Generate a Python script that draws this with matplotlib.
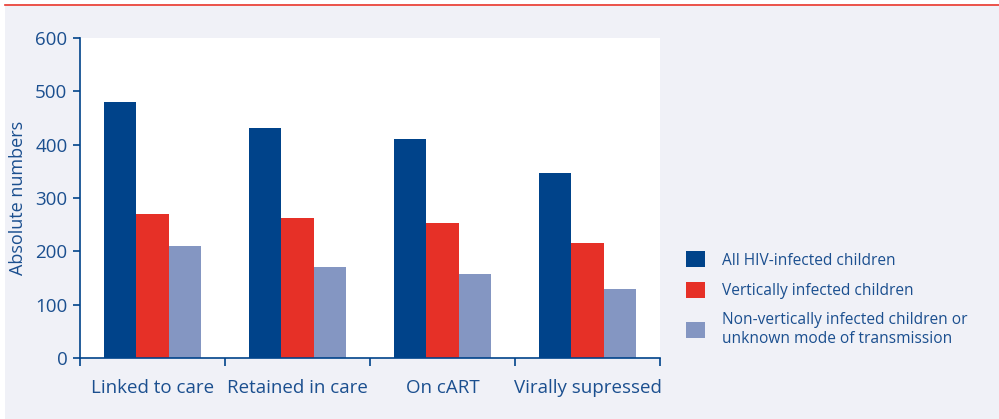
import matplotlib
matplotlib.use("Agg")
from matplotlib import pyplot as plt
from matplotlib.patches import Rectangle
from matplotlib.lines import Line2D
import numpy as np

categories = ["Linked to care", "Retained in care", "On cART", "Virally supressed"]
all_hiv = [480, 432, 411, 346]
vertical = [270, 263, 254, 216]
non_vertical = [210, 170, 158, 130]
series_names = ["All HIV-infected children",
                "Vertically infected children",
                "Non-vertically infected children or\nunknown mode of transmission"]

c_blue = "#00438A"
c_red = "#E63027"
c_lilac = "#8496C2"
c_text = "#1B4F8F"
c_bg = "#F0F1F7"

plt.rcParams['font.family'] = ['Open Sans', 'DejaVu Sans']

W, H = 999, 419
fig = plt.figure(figsize=(W / 100, H / 100), dpi=100, facecolor="white")

# panel background and red top rule
fig.patches.append(Rectangle((5 / W, 0), 1 - 5 / W, 1 - 6 / H, transform=fig.transFigure,
                             facecolor=c_bg, edgecolor="none", zorder=-10))
fig.lines.append(Line2D([5 / W, 1], [1 - 5 / H, 1 - 5 / H], transform=fig.transFigure,
                        color="#E8352B", linewidth=1.2, zorder=-5))

ax = fig.add_axes([80 / W, 1 - 358 / H, 580 / W, 320 / H])
ax.set_facecolor("white")

x = np.arange(len(categories))
w = 0.225
ax.bar(x - w, all_hiv, w, color=c_blue, label=series_names[0])
ax.bar(x, vertical, w, color=c_red, label=series_names[1])
ax.bar(x + w, non_vertical, w, color=c_lilac, label=series_names[2])

ax.set_xlim(-0.5, len(categories) - 0.5)
ax.set_ylim(0, 600)
ax.set_yticks(range(0, 601, 100))

# ticks at category boundaries, labels centered
ax.set_xticks(np.arange(-0.5, len(categories), 1))
ax.set_xticklabels([])
ax.set_xticks(x, minor=True)
ax.set_xticklabels(categories, minor=True)
ax.tick_params(axis="x", which="minor", length=0, pad=15, labelsize=13.5, labelcolor=c_text)
ax.tick_params(axis="x", which="major", length=6, width=1.2, color=c_blue, direction="out")
ax.tick_params(axis="y", length=5, width=1.2, color=c_blue, labelsize=13.5,
               labelcolor=c_text, pad=4)

for s in ["top", "right"]:
    ax.spines[s].set_visible(False)
for s in ["left", "bottom"]:
    ax.spines[s].set_color(c_blue)
    ax.spines[s].set_linewidth(1.2)

ax.set_ylabel("Absolute numbers", fontsize=13, color=c_text, labelpad=6)

leg = ax.legend(loc="center left", bbox_to_anchor=(672 / W, 1 - 299 / H),
                bbox_transform=fig.transFigure, frameon=False, fontsize=11.2,
                handlelength=1.2, handleheight=1.2, handletextpad=1.1,
                labelspacing=0.85)
for t in leg.get_texts():
    t.set_color(c_text)

fig.savefig("out.png", dpi=100, facecolor=fig.get_facecolor())
